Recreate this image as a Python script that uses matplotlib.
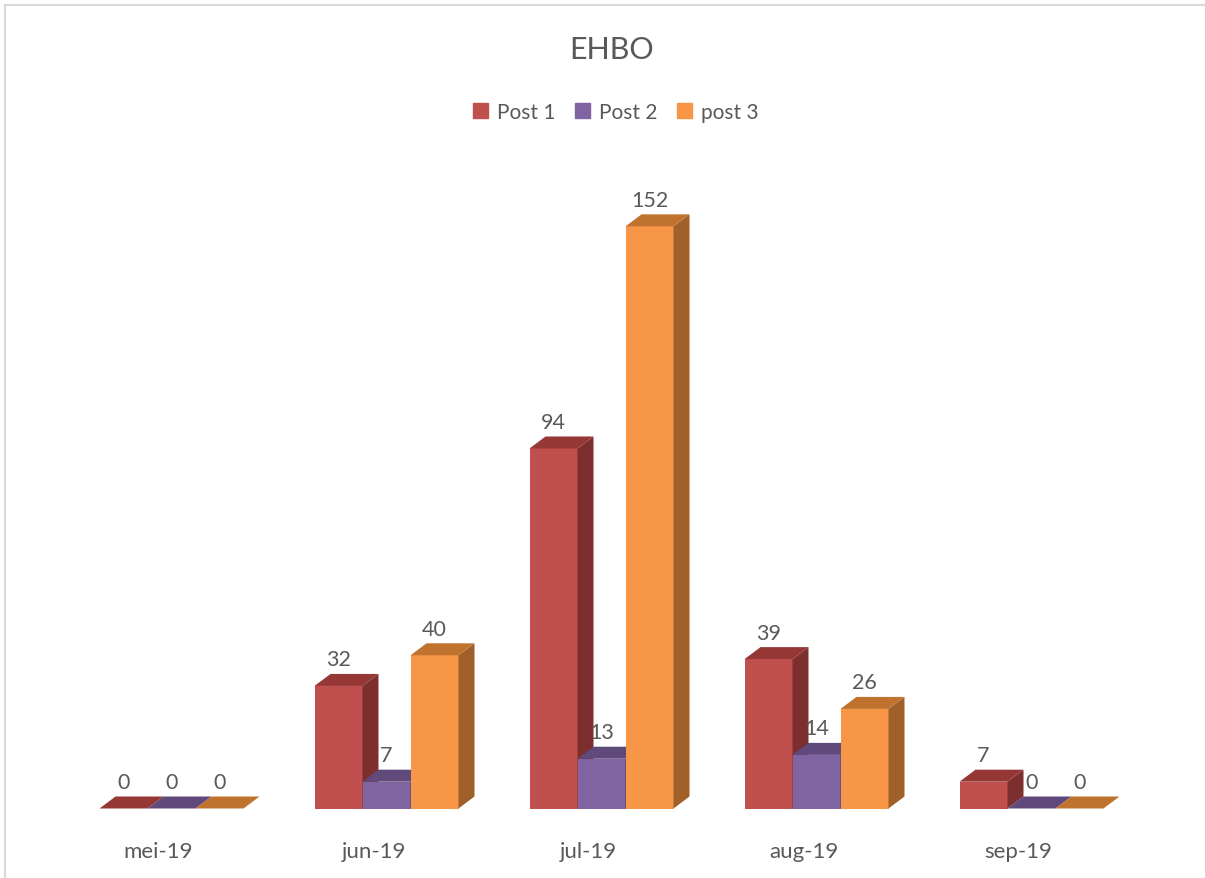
import numpy as np
import matplotlib.pyplot as plt
from matplotlib.patches import Polygon, Rectangle

months = ["mei-19", "jun-19", "jul-19", "aug-19", "sep-19"]
series = ["Post 1", "Post 2", "post 3"]
post1 = [0, 32, 94, 39, 7]
post2 = [0, 7, 13, 14, 0]
post3 = [0, 40, 152, 26, 0]

front = ["#C0504D", "#8064A2", "#F79646"]
top = ["#953735", "#604A7B", "#C0722F"]
side = ["#7C2F2E", "#4F3D66", "#A0602A"]
text_col = "#595959"

plt.rcParams['font.family'] = ['Lato', 'DejaVu Sans']

W, H = 1205, 879
fig = plt.figure(figsize=(W / 100, H / 100), dpi=100)
# axes placed so one category = 215 px and one unit = 3.83 px
ax = fig.add_axes([64 / W, (H - 809.5) / H, 1075 / W, 612.8 / H])
ax.set_xlim(-0.5, 4.5)
ax.set_ylim(0, 160)
ax.axis('off')

w = 48 / 215      # bar width
dx = 16 / 215     # depth in x
dy = 12 / 3.83    # depth in y

x = np.arange(len(months))
values = [post1, post2, post3]
z = 1
for i in range(len(months)):
    for k in range(3):
        v = values[k][i]
        x0 = x[i] + (k - 1.5) * w
        x1 = x0 + w
        if v > 0:
            ax.bar(x0, v, width=w, align='edge', color=front[k], zorder=z)
        # side face
        ax.add_patch(Polygon([(x1, 0), (x1 + dx, dy), (x1 + dx, v + dy), (x1, v)],
                             closed=True, facecolor=side[k], edgecolor='none', zorder=z))
        # top face
        ax.add_patch(Polygon([(x0, v), (x1, v), (x1 + dx, v + dy), (x0 + dx, v + dy)],
                             closed=True, facecolor=top[k], edgecolor='none', zorder=z))
        ax.text(x0 + w / 2, v + dy + 1.2, str(v), ha='center', va='bottom',
                fontsize=15.5, color=text_col, zorder=100)
        z += 1

for i, m in enumerate(months):
    ax.text(x[i] - 0.06, -11.0, m, ha='center', va='center', fontsize=16,
            color=text_col, clip_on=False)

fig.text(612 / W, 1 - 50 / H, "EHBO", ha='center', va='center', fontsize=22, color=text_col)

handles = [Rectangle((0, 0), 1, 1, color=c) for c in front]
fig.legend(handles, series, loc='center', bbox_to_anchor=(616 / W, 1 - 113 / H), ncol=3,
           frameon=False, fontsize=15, handlelength=0.7, handleheight=0.7,
           handletextpad=0.45, columnspacing=0.95, labelcolor=text_col)

fig.add_artist(Rectangle((5 / W, -0.05), 1.1, 1.05 - 6 / H, transform=fig.transFigure,
                         fill=False, edgecolor="#D9D9D9", linewidth=1.5))

fig.savefig("out.png", dpi=100)
